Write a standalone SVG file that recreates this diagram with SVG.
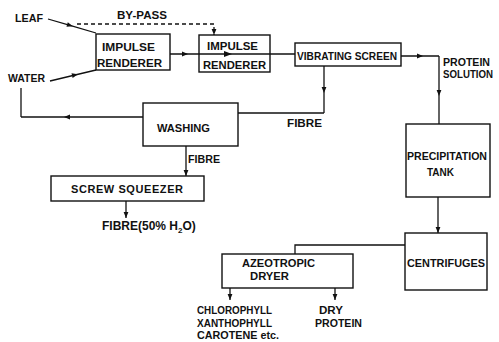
<svg xmlns="http://www.w3.org/2000/svg" width="499" height="342" viewBox="0 0 499 342">
<style>
rect{fill:#fff;stroke:#111;stroke-width:1.4}
text{font-family:"Liberation Sans",Arial,sans-serif;font-weight:bold;font-size:11px;fill:#111}
.c path{fill:none;stroke:#111;stroke-width:1.3}
.m{marker-mid:url(#am)}
.e{marker-end:url(#ae)}
.d{stroke-dasharray:4 3}
</style>
<defs>
<marker id="am" viewBox="0 0 10 10" refX="5" refY="5" markerWidth="7" markerHeight="6" markerUnits="userSpaceOnUse" orient="auto"><path d="M0,1 L10,5 L0,9 z" fill="#111"/></marker>
<marker id="ae" viewBox="0 0 10 10" refX="10" refY="5" markerWidth="7" markerHeight="6" markerUnits="userSpaceOnUse" orient="auto"><path d="M0,1 L10,5 L0,9 z" fill="#111"/></marker>
</defs>
<rect x="0" y="0" width="499" height="342" style="stroke:none"/>
<g class="c" id="connectors">
<path class="m" d="M48,19 L70,25.4 L96,33"/>
<path class="m" d="M50,81 L75,75 L96,70"/>
<path class="e d" d="M77,24 H214 V35"/>
<path class="m" d="M170,54 L185,54 L228,54 L295,54"/>
<path class="m" d="M401,56 L420,56 L439,56"/>
<path class="m" d="M439,56 L439,93 L439,124"/>
<path class="m" d="M324,66 L324,90 L324,113"/>
<path d="M324,113 H238"/>
<path class="m" d="M143,117 L67,117 L21,117"/>
<path d="M21,117 V88"/>
<path class="e" d="M186,146 V176"/>
<path class="e" d="M126,201 V218"/>
<path class="e" d="M438,197 V233"/>
<path d="M405,245 H295 V254"/>
<path class="e" d="M230,288 V300"/>
<path class="e" d="M335,288 V300"/>
</g>
<g id="labels">
<text x="15" y="22" textLength="28" lengthAdjust="spacingAndGlyphs">LEAF</text>
<text x="8" y="82" textLength="37" lengthAdjust="spacingAndGlyphs">WATER</text>
<text x="117" y="19" textLength="50" lengthAdjust="spacingAndGlyphs">BY-PASS</text>
<text x="443" y="66" textLength="47" lengthAdjust="spacingAndGlyphs">PROTEIN</text>
<text x="443" y="78" textLength="50" lengthAdjust="spacingAndGlyphs">SOLUTION</text>
<text x="287" y="127" textLength="35" lengthAdjust="spacingAndGlyphs">FIBRE</text>
<text x="188" y="163" textLength="32" lengthAdjust="spacingAndGlyphs">FIBRE</text>
<text x="102" y="230" style="font-size:12px">FIBRE(50% H<tspan dy="3" style="font-size:8px">2</tspan><tspan dy="-3">O)</tspan></text>
<text x="197" y="314" textLength="75" lengthAdjust="spacingAndGlyphs">CHLOROPHYLL</text>
<text x="197" y="327" textLength="75" lengthAdjust="spacingAndGlyphs">XANTHOPHYLL</text>
<text x="197" y="339" textLength="82" lengthAdjust="spacingAndGlyphs">CAROTENE etc.</text>
<text x="319" y="314" textLength="24" lengthAdjust="spacingAndGlyphs">DRY</text>
<text x="315" y="327" textLength="47" lengthAdjust="spacingAndGlyphs">PROTEIN</text>
</g>
<g id="impulse1">
<rect x="96" y="34" width="74" height="36"/>
<text x="102" y="51" textLength="53" lengthAdjust="spacingAndGlyphs">IMPULSE</text>
<text x="97" y="67" textLength="65" lengthAdjust="spacingAndGlyphs">RENDERER</text>
</g>
<g id="impulse2">
<rect x="199" y="35" width="71" height="37"/>
<path d="M199,54 H270" stroke="#111" stroke-width="1.3"/>
<path d="M224,51 L232,54 L224,57 z" fill="#111"/>
<text x="207" y="50" textLength="51" lengthAdjust="spacingAndGlyphs">IMPULSE</text>
<text x="203" y="69" textLength="63" lengthAdjust="spacingAndGlyphs">RENDERER</text>
</g>
<g id="screen">
<rect x="295" y="43" width="106" height="23"/>
<text x="297" y="60" textLength="100" lengthAdjust="spacingAndGlyphs">VIBRATING SCREEN</text>
</g>
<g id="washing">
<rect x="143" y="103" width="95" height="43"/>
<text x="157" y="132" textLength="53" lengthAdjust="spacingAndGlyphs">WASHING</text>
</g>
<g id="squeezer">
<rect x="51" y="176" width="153" height="25"/>
<text x="71" y="193" textLength="112" lengthAdjust="spacing">SCREW  SQUEEZER</text>
</g>
<g id="tank">
<rect x="406" y="124" width="84" height="73"/>
<text x="407" y="160" textLength="80" lengthAdjust="spacingAndGlyphs">PRECIPITATION</text>
<text x="427" y="176" textLength="27" lengthAdjust="spacingAndGlyphs">TANK</text>
</g>
<g id="centrifuges">
<rect x="405" y="233" width="82" height="57"/>
<text x="407" y="267" textLength="78" lengthAdjust="spacingAndGlyphs">CENTRIFUGES</text>
</g>
<g id="dryer">
<rect x="222" y="254" width="131" height="34"/>
<text x="242" y="267" textLength="73" lengthAdjust="spacingAndGlyphs">AZEOTROPIC</text>
<text x="250" y="280" textLength="39" lengthAdjust="spacingAndGlyphs">DRYER</text>
</g>
</svg>
